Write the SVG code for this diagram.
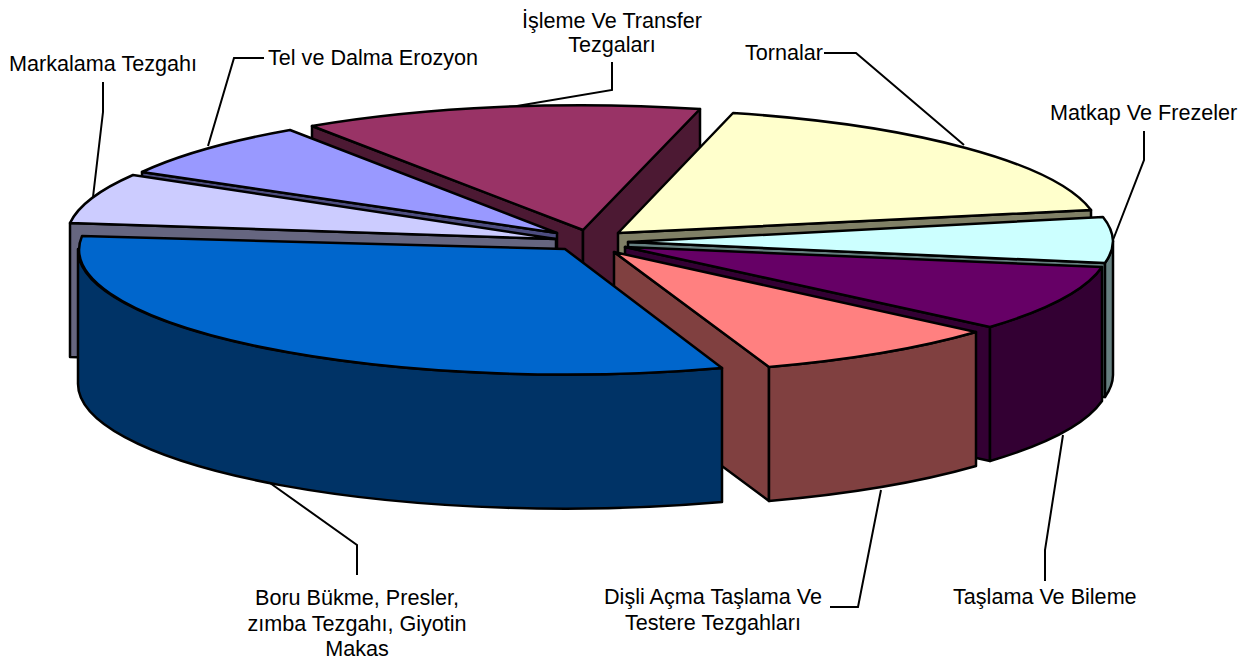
<svg xmlns="http://www.w3.org/2000/svg" width="1256" height="664" viewBox="0 0 1256 664">
<style>
.s{stroke:#000;stroke-width:2.5;stroke-linejoin:round}
.t{font-family:"Liberation Sans",Arial,sans-serif;font-size:21.6px;fill:#000}
.m{text-anchor:middle}
.l{fill:none;stroke:#000;stroke-width:2}
</style>
<rect width="1256" height="664" fill="#fff"/>
<g id="isleme">
<path class="s" fill="#4C1933" d="M583,230 L312,126 L312,260 L583,364 Z"/>
<path class="s" fill="#4C1933" d="M583,230 L700,109 L700,243 L583,364 Z"/>
<path class="s" fill="#993366" d="M583,230 L312,126 A487,125 0 0,1 700,109 Z"/>
<text class="t m" x="612" y="28">İşleme Ve Transfer</text>
<text class="t m" x="612" y="52">Tezgaları</text>
</g>
<g id="tel">
<path class="s" fill="#4D4D80" d="M557,233 L142,172 L142,306 L557,367 Z"/>
<path class="s" fill="#9999FF" d="M557,233 L142,172 A487,125 0 0,1 290,130 Z"/>
<text class="t" x="268" y="65">Tel ve Dalma Erozyon</text>
</g>
<g id="tornalar">
<path class="s" fill="#808066" d="M618,233 L1091,210 L1091,344 L618,367 Z"/>
<path class="s" fill="#FFFFCC" d="M618,233 L733,113 A487,125 0 0,1 1091,210 Z"/>
<text class="t" x="745" y="60">Tornalar</text>
</g>
<g id="markalama">
<path class="s" fill="#666680" d="M556,239 L70,223 L70,357 L556,373 Z"/>
<path class="s" fill="#CCCCFF" d="M556,239 L70,223 A487,125 0 0,1 133,175 Z"/>
<text class="t" x="9" y="71">Markalama Tezgahı</text>
</g>
<g id="matkap">
<path class="s" fill="#668080" d="M628,242 L1105,263 L1105,397 L628,376 Z"/>
<path class="s" fill="#668080" d="M1113,241 A487,125 0 0,1 1105,263 L1105,397 A487,125 0 0,0 1113,375 Z"/>
<path class="s" fill="#CCFFFF" d="M628,242 L1103,217 A487,125 0 0,1 1113,241 A487,125 0 0,1 1105,263 Z"/>
<text class="t" x="1050" y="120">Matkap Ve Frezeler</text>
</g>
<g id="taslama">
<path class="s" fill="#330033" d="M625,247 L990,327 L990,461 L625,381 Z"/>
<path class="s" fill="#330033" d="M1102,267 A487,125 0 0,1 990,327 L990,461 A487,125 0 0,0 1102,401 Z"/>
<path class="s" fill="#660066" d="M625,247 L1102,267 A487,125 0 0,1 990,327 Z"/>
<text class="t" x="953" y="604">Taşlama Ve Bileme</text>
</g>
<g id="disli">
<path class="s" fill="#804040" d="M614,252 L769,367 L769,501 L614,386 Z"/>
<path class="s" fill="#804040" d="M976,332 A487,125 0 0,1 769,367 L769,501 A487,125 0 0,0 976,466 Z"/>
<path class="s" fill="#FF8080" d="M614,252 L976,332 A487,125 0 0,1 769,367 Z"/>
<text class="t m" x="713" y="604">Dişli Açma Taşlama Ve</text>
<text class="t m" x="713" y="630">Testere Tezgahları</text>
</g>
<g id="boru">
<path class="s" fill="#003366" d="M722,368 A487,125 0 0,1 78,249 L78,383 A487,125 0 0,0 722,502 Z"/>
<path class="s" fill="#0066CC" d="M565,249 L722,368 A487,125 0 0,1 82,236 Z"/>
<text class="t m" x="357" y="605">Boru Bükme, Presler,</text>
<text class="t m" x="357" y="631">zımba Tezgahı, Giyotin</text>
<text class="t m" x="357" y="656">Makas</text>
</g>
<g id="connectors">
<path class="l" d="M103,82 L103,112 L93,197"/>
<path class="l" d="M264,58 L234,58 L208,146"/>
<path class="l" d="M612,62 L612,90 L517,106"/>
<path class="l" d="M824,53 L856,53 L964,145"/>
<path class="l" d="M1144,131 L1144,160 L1113,240"/>
<path class="l" d="M1045,581 L1045,550 L1063,435"/>
<path class="l" d="M830,607 L858,607 L881,490"/>
<path class="l" d="M357,575 L357,545 L270,483"/>
</g>
</svg>
